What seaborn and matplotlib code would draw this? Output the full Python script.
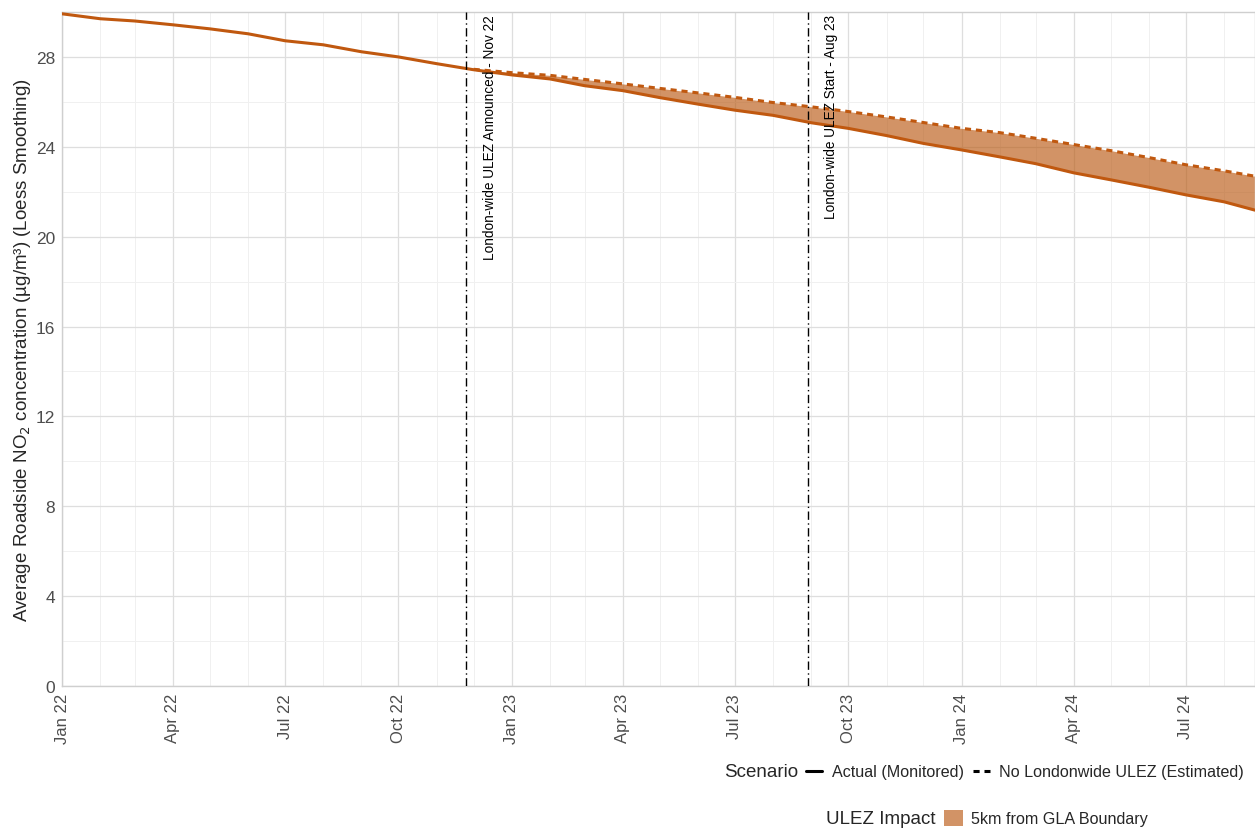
import matplotlib
matplotlib.use("Agg")
from matplotlib import pyplot as plt
from matplotlib.lines import Line2D
from matplotlib.patches import Patch
import matplotlib.dates as mdates
import seaborn as sns
import pandas as pd
import numpy as np

# data (monthly, loess-smoothed)
dates = pd.to_datetime(
    pd.date_range("2022-01-01", "2024-08-01", freq="MS").strftime("%Y-%m-%d").tolist()
    + ["2024-08-26"])

actual = [29.92, 29.70, 29.60, 29.43, 29.25, 29.03, 28.72, 28.54, 28.23, 28.00,
          27.70, 27.43, 27.20, 27.02, 26.72, 26.50, 26.19, 25.90, 25.63, 25.40,
          25.07, 24.82, 24.50, 24.15, 23.86, 23.55, 23.25, 22.84, 22.53, 22.20,
          21.86, 21.55, 21.18]

# counterfactual starts at Dec 22
estimated = [np.nan] * 11 + [
    27.45, 27.30, 27.18, 27.00, 26.80, 26.60, 26.40, 26.20, 25.97, 25.78,
    25.57, 25.33, 25.08, 24.82, 24.63, 24.38, 24.10, 23.83, 23.52, 23.20,
    22.93, 22.69]

scenario_labels = ["Actual (Monitored)", "No Londonwide ULEZ (Estimated)"]
impact_label = "5km from GLA Boundary"

events = pd.to_datetime(["2022-11-25", "2023-08-29"])
event_labels = ["London-wide ULEZ Announced - Nov 22", "London-wide ULEZ Start - Aug 23"]

LINE_COL = "#C0580F"
FILL_COL = "#BA5A14"

df = pd.concat([
    pd.DataFrame({"date": dates, "no2": actual, "Scenario": scenario_labels[0]}),
    pd.DataFrame({"date": dates, "no2": estimated, "Scenario": scenario_labels[1]}),
]).dropna()

sns.set_theme(style="whitegrid")
plt.rcParams["font.family"] = ["Liberation Sans", "DejaVu Sans"]

fig = plt.figure(figsize=(12.55, 8.29), dpi=100)
ax = fig.add_axes([62 / 1255, 142 / 829, 1 - 62 / 1255, 674 / 829])

# ULEZ impact ribbon
mask = ~np.isnan(np.array(estimated))
ax.fill_between(dates[mask], np.array(actual)[mask], np.array(estimated)[mask],
                color=FILL_COL, alpha=0.65, linewidth=0, zorder=2)

sns.lineplot(data=df, x="date", y="no2", style="Scenario",
             dashes={scenario_labels[0]: "", scenario_labels[1]: (2, 1.6)},
             color=LINE_COL, linewidth=2.2, legend=False, ax=ax, zorder=3)

for d, lab in zip(events, event_labels):
    ax.axvline(d, color="black", linewidth=1.0, linestyle=(0, (6, 2.5, 1, 2.5)), zorder=4)
    ax.text(d + pd.Timedelta(days=19), 29.9, lab, rotation=90, ha="center", va="top",
            fontsize=9.8, color="black")

ax.set_xlim(dates[0], dates[-1])
ax.set_ylim(0, 30)
ax.set_yticks(np.arange(0, 29, 4))
ax.set_yticks(np.arange(2, 31, 4), minor=True)
ax.xaxis.set_major_locator(mdates.MonthLocator(bymonth=[1, 4, 7, 10]))
ax.xaxis.set_minor_locator(mdates.MonthLocator())
ax.xaxis.set_major_formatter(mdates.DateFormatter("%b %y"))

ax.grid(which="major", color="#DEDEDE", linewidth=0.9)
ax.grid(which="minor", color="#F0F0F0", linewidth=0.7)
ax.set_axisbelow(True)
for side in ["left", "bottom", "top", "right"]:
    ax.spines[side].set_color("#CFCFCF")
    ax.spines[side].set_linewidth(1.0)

ax.tick_params(axis="y", which="major", labelsize=12.5, labelcolor="#4D4D4D",
               length=0, pad=5)
ax.tick_params(axis="x", which="major", labelsize=12, labelcolor="#4D4D4D",
               length=0, pad=5)
ax.tick_params(axis="both", which="minor", length=0)
plt.setp(ax.get_xticklabels(), rotation=90, ha="center", va="top")

ax.set_xlabel("")
ax.set_ylabel("Average Roadside NO$_2$ concentration (µg/m³) (Loess Smoothing)",
              fontsize=13.5, labelpad=2)

# legends below the panel
fig.text(724 / 1255, 1 - 773 / 829, "Scenario", fontsize=13.5, va="center", ha="left")
scen_handles = [Line2D([], [], color="black", linewidth=2.2),
                Line2D([], [], color="black", linewidth=2.2, linestyle=(0, (2, 1.6)))]
fig.legend(scen_handles, scenario_labels, loc="center left",
           bbox_to_anchor=(806 / 1255, 1 - 773 / 829), ncol=2, frameon=False,
           fontsize=11.6, handlelength=1.0, handletextpad=0.6, columnspacing=0.6,
           borderaxespad=0, borderpad=0)

fig.text(826 / 1255, 1 - 820 / 829, "ULEZ Impact", fontsize=13.5, va="center", ha="left")
fig.legend([Patch(facecolor=FILL_COL, alpha=0.65, linewidth=0)], [impact_label],
           loc="center left", bbox_to_anchor=(944 / 1255, 1 - 819 / 829), frameon=False,
           fontsize=11.6, handlelength=1.15, handleheight=1.2, handletextpad=0.55,
           borderaxespad=0, borderpad=0)

fig.savefig("out.png", dpi=100)
